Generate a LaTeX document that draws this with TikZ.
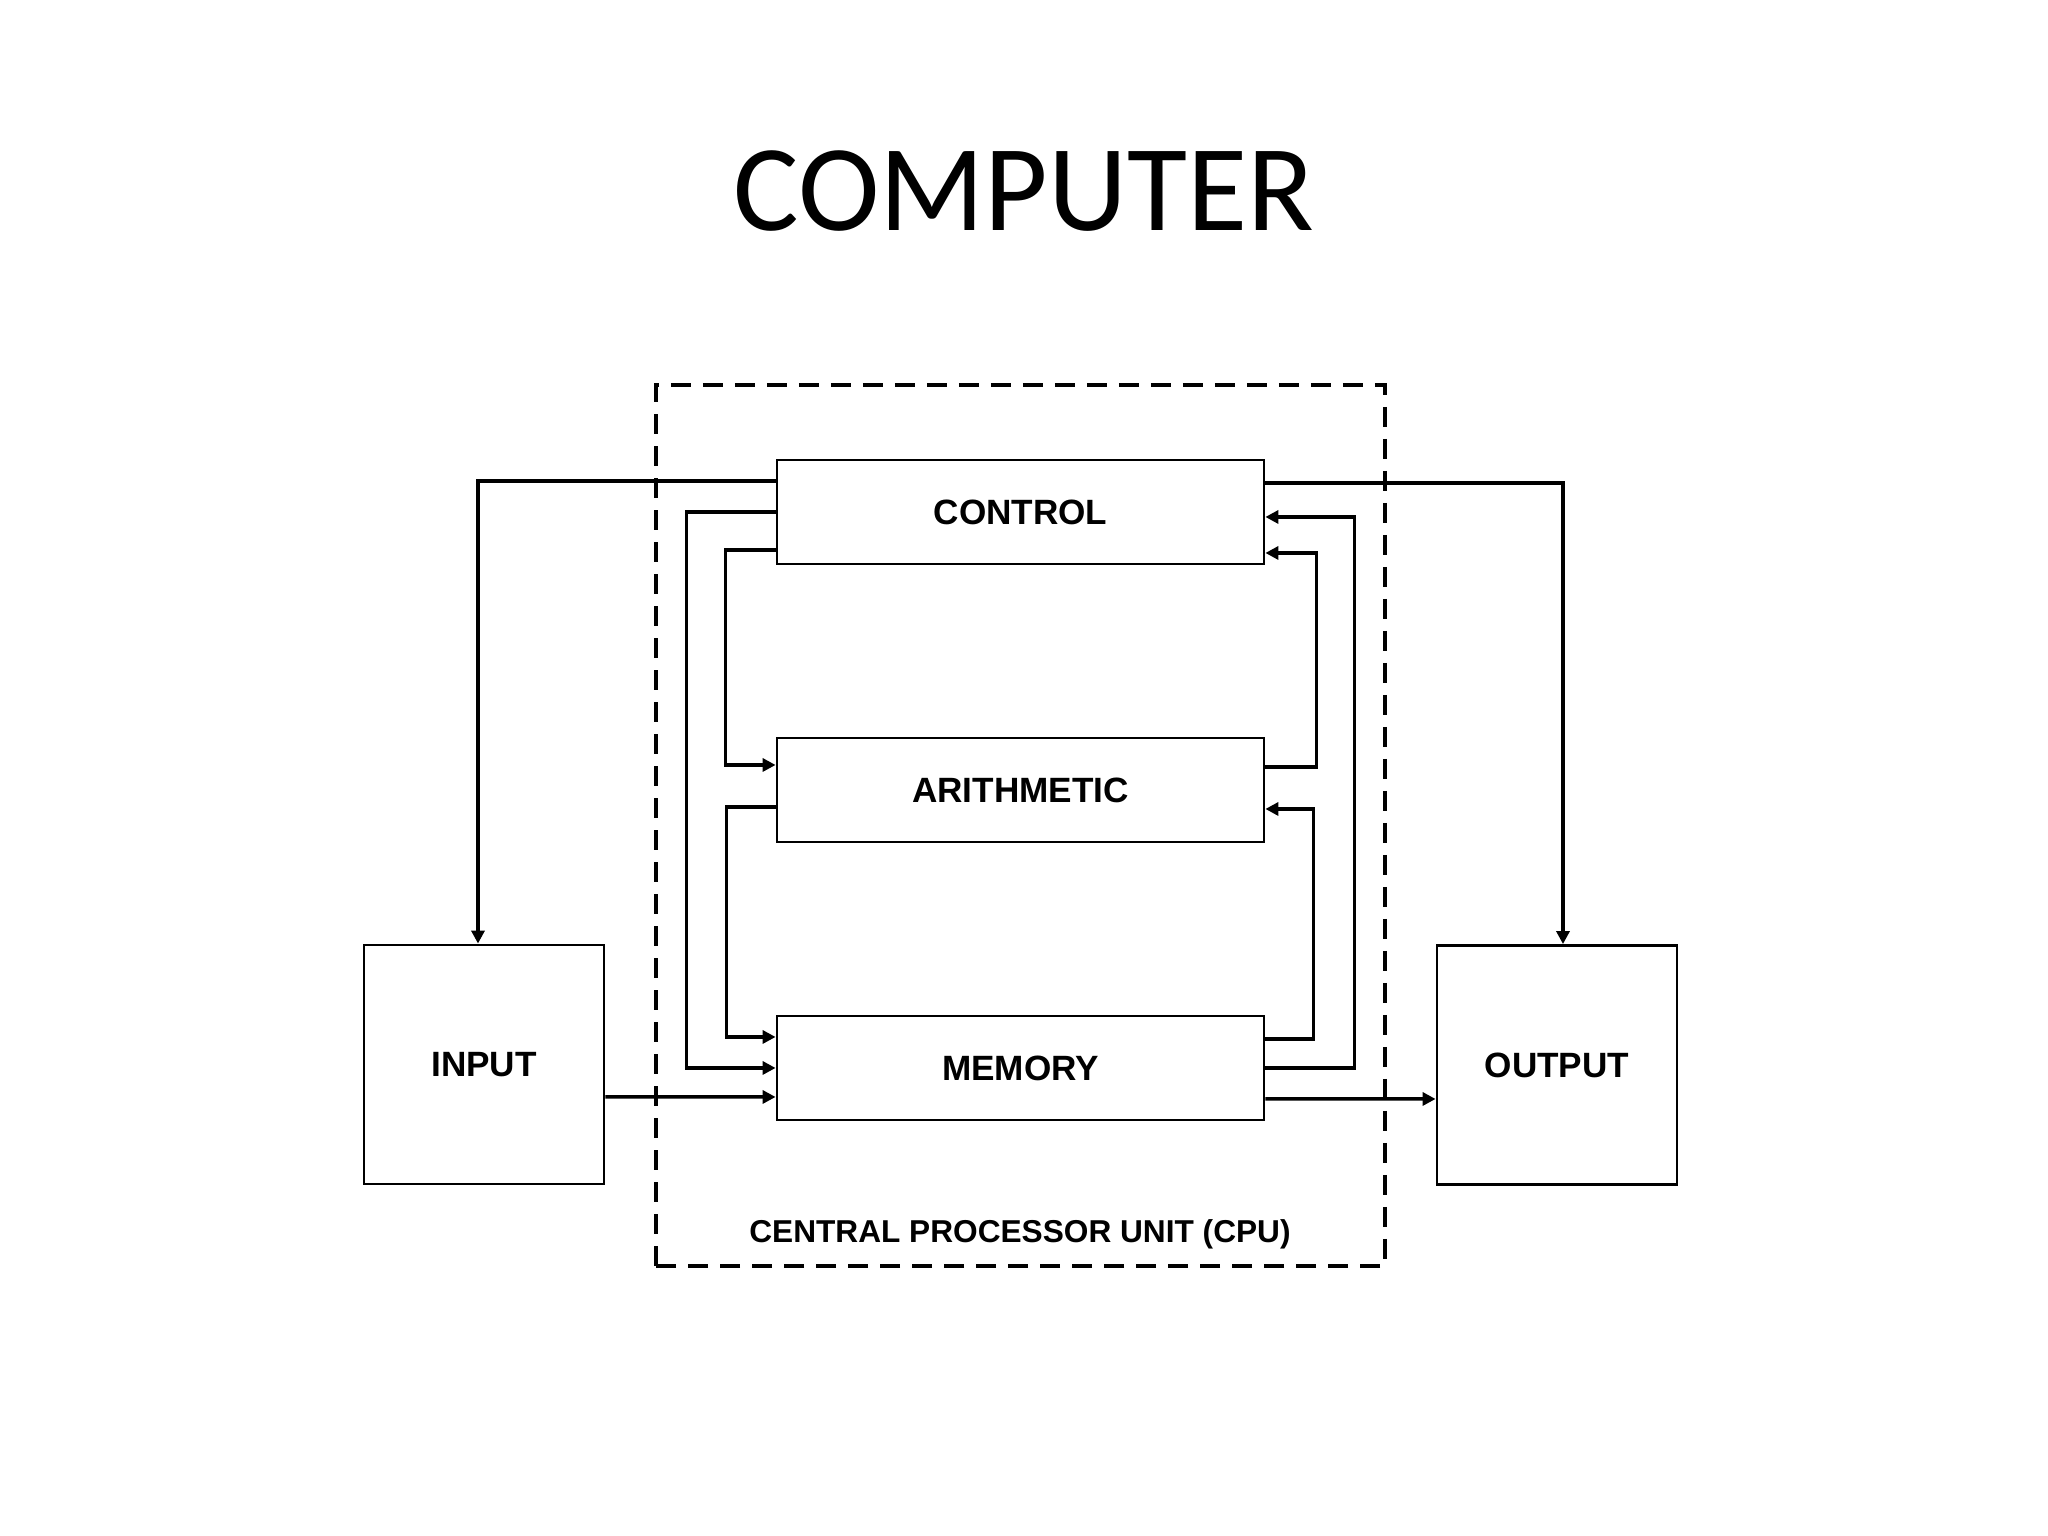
\documentclass[tikz,border=0pt]{standalone}
\usepackage{fontspec}
\setmainfont{Carlito}
\newfontfamily\arialfont{Liberation Sans}
\usepackage{tikz}
\usetikzlibrary{arrows.meta,calc,positioning}
\tikzset{
  unit/.style={draw=black,line width=0.8pt,minimum width=4.87cm,minimum height=1.04cm,inner sep=0pt,font=\arialfont\bfseries\fontsize{10}{12}\selectfont},
  io/.style={draw=black,line width=0.8pt,minimum width=2.40cm,minimum height=2.39cm,inner sep=0pt,font=\arialfont\bfseries\fontsize{10}{12}\selectfont},
  wire/.style={line width=1pt,-{Triangle[length=1.3mm,width=1.3mm]}},
  cpubox/.style={line width=1.15pt,dash pattern=on 2mm off 1.2mm}
}
\begin{document}
\begin{tikzpicture}
\useasboundingbox (0,0) rectangle (20.48,15.36);
% titulo
\node[anchor=base,font=\fontsize{35}{40}\selectfont,inner sep=0pt] (title) at (10.24,13.05) {COMPUTER};
% unidad central
\draw[cpubox] (6.56,2.70) rectangle (13.85,11.51);
\node[anchor=base,inner sep=0pt,font=\arialfont\bfseries\fontsize{9}{11}\selectfont] (cpu) at (10.20,2.93) {CENTRAL PROCESSOR UNIT (CPU)};
\node[unit] (ctrl) at (10.205,10.24) {CONTROL};
\node[unit] (ari) at (10.205,7.46) {ARITHMETIC};
\node[unit] (mem) at (10.205,4.68) {MEMORY};
% entrada y salida
\node[io] (inp) at (4.84,4.715) {INPUT};
\node[io] (out) at (15.57,4.71) {OUTPUT};
% conexiones izquierda
\draw[wire] ([yshift=3.1mm]ctrl.west) -| ([xshift=-0.6mm]inp.north);
\draw[wire] (ctrl.west) -- ++(-8.9mm,0) |- (mem.west);
\draw[wire] ([yshift=-3.8mm]ctrl.west) -- ++(-5mm,0) |- ([yshift=2.5mm]ari.west);
\draw[wire] ([yshift=-1.7mm]ari.west) -- ++(-4.9mm,0) |- ([yshift=3.1mm]mem.west);
\draw[wire] ([yshift=-3.25mm]inp.east) -- ([yshift=-2.9mm]mem.west);
% conexiones derecha
\draw[wire] ([yshift=2.9mm]ctrl.east) -| ([xshift=0.6mm]out.north);
\draw[wire] (mem.east) -- ++(8.9mm,0) |- ([yshift=-0.5mm]ctrl.east);
\draw[wire] ([yshift=2.3mm]ari.east) -- ++(5.1mm,0) |- ([yshift=-4.1mm]ctrl.east);
\draw[wire] ([yshift=2.9mm]mem.east) -- ++(4.8mm,0) |- ([yshift=-1.9mm]ari.east);
\draw[wire] ([yshift=-3.1mm]mem.east) -- ([yshift=-3.4mm]out.west);
\end{tikzpicture}
\end{document}
